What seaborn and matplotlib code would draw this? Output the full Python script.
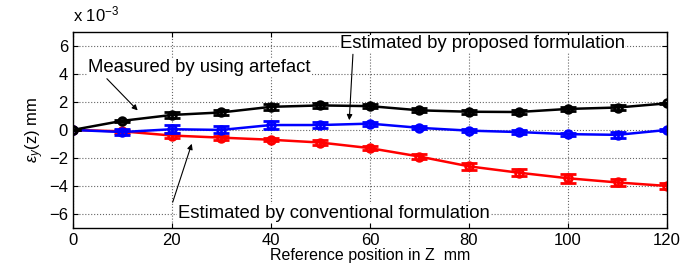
import numpy as np
import pandas as pd
import matplotlib
matplotlib.use('Agg')
import matplotlib.pyplot as plt
import seaborn as sns

# reference positions (mm)
z_pos = [0, 10, 20, 30, 40, 50, 60, 70, 80, 90, 100, 110, 120]

# values in units of 1e-3 mm
measured = [0, 0.65, 1.07, 1.25, 1.65, 1.75, 1.7, 1.4, 1.3, 1.28, 1.5, 1.6, 1.9]
measured_err = [0, 0.08, 0.2, 0.2, 0.2, 0.15, 0.15, 0.15, 0.15, 0.12, 0.12, 0.15, 0.05]
proposed = [0, -0.15, 0.05, 0.0, 0.35, 0.35, 0.45, 0.15, -0.05, -0.15, -0.3, -0.35, 0.0]
proposed_err = [0, 0.2, 0.3, 0.25, 0.3, 0.2, 0.15, 0.1, 0.1, 0.12, 0.1, 0.2, 0.05]
conventional = [0, -0.1, -0.4, -0.55, -0.7, -0.9, -1.3, -1.9, -2.6, -3.05, -3.45, -3.75, -4.0]
conventional_err = [0, 0.1, 0.15, 0.15, 0.1, 0.15, 0.15, 0.2, 0.25, 0.25, 0.33, 0.25, 0.2]

series = [('conventional', conventional, conventional_err, '#ff0000'),
          ('proposed', proposed, proposed_err, '#0000ff'),
          ('measured', measured, measured_err, '#000000')]

sns.set_style('ticks')
plt.rcParams['font.family'] = ['Liberation Sans', 'DejaVu Sans']
plt.rcParams['mathtext.fontset'] = 'custom'
plt.rcParams['mathtext.rm'] = 'Liberation Sans'
plt.rcParams['mathtext.it'] = 'Liberation Sans:italic'
for key in ['text.color', 'axes.labelcolor', 'xtick.color', 'ytick.color']:
    plt.rcParams[key] = 'black'

fig = plt.figure(figsize=(6.8, 2.75), dpi=100)
ax = fig.add_axes([0.107, 0.171, 0.874, 0.713])

for name, vals, errs, col in series:
    df = pd.DataFrame({'z': z_pos, 'eps': vals})
    ax.errorbar(z_pos, vals, yerr=errs, fmt='none', ecolor=col, elinewidth=2,
                capsize=6, capthick=2)
    sns.lineplot(data=df, x='z', y='eps', color=col, marker='o', markersize=5.5,
                 markerfacecolor='none', markeredgecolor=col, markeredgewidth=2,
                 linewidth=1.8, ax=ax, errorbar=None)

ax.set_xlim(0, 120)
ax.set_ylim(-7, 7)
ax.set_xticks(range(0, 121, 20))
ax.set_yticks(range(-6, 7, 2))
ax.set_yticklabels(['\u22126', '\u22124', '\u22122', '0', '2', '4', '6'])
ax.tick_params(direction='in', top=True, right=True, labelsize=12, length=3.5)
ax.grid(True, linestyle=':', color='#666666', linewidth=0.8)
for sp in ax.spines.values():
    sp.set_visible(True)
    sp.set_linewidth(1.0)
    sp.set_color('black')

ax.set_xlabel('Reference position in Z  mm', fontsize=11.5, labelpad=0)
ax.set_ylabel('$\\varepsilon_y$(z) mm', fontsize=12, labelpad=2)
ax.text(0, 1.04, 'x 10$^{\u22123}$', transform=ax.transAxes, fontsize=12, va='bottom')

arrow = dict(arrowstyle='-|>', color='black', lw=0.8, mutation_scale=8)
box = dict(facecolor='white', edgecolor='none', pad=0.5)
ax.text(3.0, 4.45, 'Measured by using artefact', fontsize=13.3, va='center', ha='left', bbox=box)
ax.annotate('', xy=(13.5, 1.25), xytext=(6.5, 3.8), arrowprops=arrow)
ax.text(53.9, 6.15, 'Estimated by proposed formulation', fontsize=13.3, va='center', ha='left', bbox=box)
ax.annotate('', xy=(55.8, 0.5), xytext=(56.6, 5.6), arrowprops=arrow)
ax.text(21.2, -5.95, 'Estimated by conventional formulation', fontsize=13.3, va='center', ha='left', bbox=box)
ax.annotate('', xy=(24.2, -0.8), xytext=(20.0, -5.35), arrowprops=arrow)

fig.savefig('out.png', dpi=100)
